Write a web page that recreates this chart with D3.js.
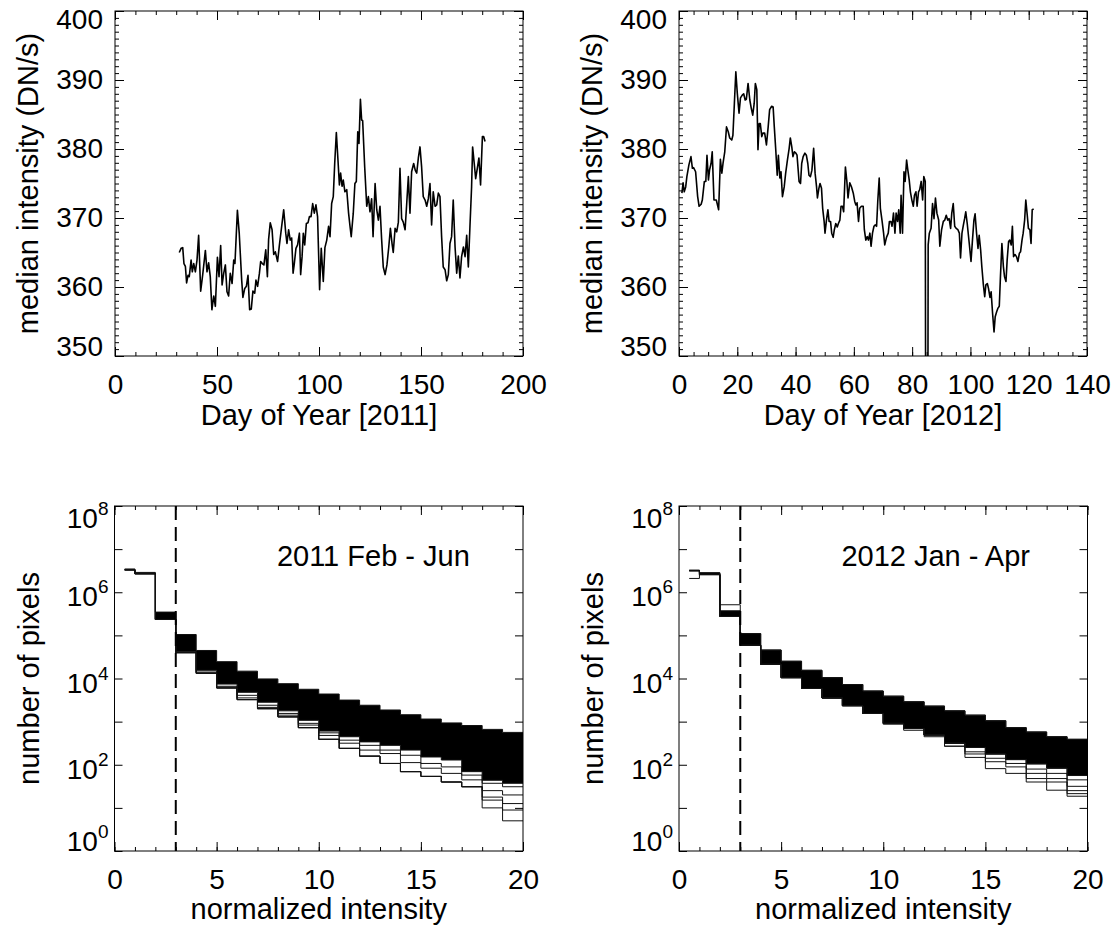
<!DOCTYPE html>
<html lang="en">
<head>
<meta charset="UTF-8">
<title>Median intensity and pixel histograms</title>
<script src="https://d3js.org/d3.v7.min.js"></script>
<style>
  body { margin: 0; background: #fff; }
  text { font-family: "Liberation Sans", Arial, Helvetica, sans-serif; fill: #000; }
</style>
</head>
<body>
<script>
// ---- median intensity, 2011 (day of year, DN/s) ----
var days2011 = [
  31.5,32.4,33.2,33.8,34.5,35.1,35.8,36.4,37.3,37.9,
  38.6,39.4,40.2,41.0,42.0,43.0,44.3,45.1,45.9,46.7,
  47.5,48.4,49.2,50.2,51.0,51.8,52.5,53.3,54.1,54.9,
  55.7,56.5,57.4,58.2,58.8,60.0,60.9,62.1,62.7,63.6,
  64.4,65.2,66.0,66.8,67.6,68.5,69.1,69.9,70.8,71.4,
  72.2,73.0,73.9,74.7,75.3,76.1,77.0,77.8,78.6,79.7,
  80.6,81.7,82.7,83.7,84.3,85.1,85.9,86.6,87.3,87.9,
  88.7,89.5,90.4,91.0,91.7,92.3,93.0,93.8,94.6,95.3,
  96.1,96.9,97.7,98.5,99.3,100.3,101.1,102.1,102.9,103.8,
  104.7,105.4,106.2,107.0,107.7,108.5,109.3,110.0,110.6,111.3,
  111.9,112.7,113.6,114.5,115.2,115.8,116.8,117.6,118.3,119.0,
  119.6,120.3,120.9,121.4,122.4,123.4,124.2,125.0,125.8,126.5,
  127.5,128.3,129.1,129.9,130.7,131.5,132.4,133.3,134.2,135.0,
  135.8,136.4,137.3,138.1,138.9,139.7,140.5,141.3,142.2,143.0,
  143.8,144.6,145.4,146.4,147.2,147.9,148.7,149.5,150.3,151.1,
  152.0,152.8,153.6,154.4,155.2,156.0,156.9,157.7,158.5,159.3,
  160.1,160.9,161.8,162.6,163.4,164.2,165.0,165.8,166.7,167.5,
  168.3,169.1,169.9,170.8,171.6,172.4,173.2,174.0,174.8,175.3,
  176.1,176.8,177.6,178.4,179.2,180.1,180.7,181.4
];
var median2011 = [
  365.0,365.6,365.7,363.4,363.0,360.6,361.7,361.5,363.9,362.2,
  363.4,362.2,363.9,367.5,359.4,361.8,365.3,362.2,363.5,361.5,
  356.7,358.7,357.2,364.3,361.5,366.0,360.3,362.0,363.2,359.3,
  358.7,362.0,360.5,363.9,363.4,371.1,367.8,361.0,358.5,359.8,
  360.1,361.7,356.7,356.8,359.4,359.1,361.0,360.1,362.0,363.7,
  363.4,363.2,365.4,361.5,366.9,369.3,368.3,364.7,365.1,363.7,
  366.1,368.8,371.2,367.8,366.3,368.3,366.8,367.1,362.0,363.4,
  365.6,366.1,367.8,361.8,364.4,367.8,366.1,369.2,369.3,370.2,
  370.2,372.1,370.7,371.9,370.2,359.6,365.6,360.8,365.7,366.8,
  368.8,367.3,372.1,373.1,377.9,382.4,378.4,374.8,376.5,374.6,
  375.5,373.8,374.1,370.7,368.8,367.3,370.7,375.0,375.3,382.5,
  380.8,387.2,384.2,384.1,377.4,371.7,373.1,370.9,372.8,367.3,
  375.0,371.2,369.7,371.7,366.9,362.9,361.8,363.2,365.8,368.5,
  366.3,365.0,368.5,368.0,369.4,377.2,369.9,369.4,368.3,372.1,
  376.0,370.7,376.7,377.9,376.9,376.5,378.7,380.3,377.4,373.1,
  372.6,371.7,372.8,375.0,369.0,373.8,371.7,371.9,373.6,373.1,
  367.3,362.9,362.5,360.9,361.8,366.3,367.3,372.6,365.8,362.0,
  364.5,361.3,364.4,365.8,364.4,367.5,362.9,368.8,374.5,380.3,
  377.9,375.7,377.2,378.7,374.8,381.8,381.8,381.1
];

// ---- median intensity, 2012 ----
var days2012 = [
  1.0,1.4,1.8,2.3,2.7,3.4,4.1,4.6,5.0,5.7,
  6.4,6.9,7.6,8.0,8.7,9.2,9.6,10.1,10.5,11.0,
  11.4,12.0,12.8,13.6,14.2,14.7,15.1,15.7,16.3,16.9,
  17.4,18.1,18.5,19.0,19.5,20.0,20.6,21.1,21.7,22.2,
  22.7,23.1,23.7,24.3,24.8,25.3,25.8,26.2,26.7,27.1,
  27.5,27.9,28.4,28.8,29.4,30.0,30.6,31.1,31.8,32.3,
  32.7,33.2,33.7,34.1,34.6,35.0,35.5,36.1,36.6,37.2,
  37.8,38.2,38.7,39.1,39.6,40.1,40.5,41.2,41.7,42.1,
  42.6,43.2,43.7,44.2,44.6,45.1,45.6,46.2,46.7,47.2,
  47.5,48.0,48.4,48.9,49.3,49.8,50.1,50.6,51.1,51.5,
  52.0,52.4,52.9,53.3,53.8,54.3,54.7,55.2,55.6,56.1,
  56.5,57.1,57.6,58.0,58.6,59.2,59.8,60.3,60.7,61.1,
  61.6,62.0,62.6,63.2,63.6,64.1,64.6,65.0,65.5,65.9,
  66.4,66.9,67.3,67.8,68.2,68.7,69.1,69.7,70.2,70.6,
  71.2,71.8,72.2,72.7,73.1,73.6,74.1,74.5,75.0,75.4,
  75.9,76.2,76.7,77.2,77.6,78.1,78.5,79.0,79.4,79.9,
  80.4,80.8,81.3,81.7,82.2,82.6,83.1,83.6,84.0,84.5,
  85.0,85.5,85.9,86.5,87.0,87.5,88.0,88.5,89.1,89.5,
  90.1,90.7,91.2,91.7,92.2,92.7,93.2,93.6,94.1,94.6,
  95.1,95.7,96.2,96.6,97.1,97.5,98.0,98.4,98.9,99.6,
  100.2,100.7,101.2,101.6,102.1,102.6,103.0,103.5,103.9,104.4,
  104.9,105.3,105.8,106.2,106.7,107.1,107.6,108.1,108.5,109.0,
  109.4,109.9,110.3,110.8,111.3,111.7,112.2,112.6,113.1,113.5,
  114.0,114.4,114.8,115.3,115.8,116.3,116.8,117.2,117.7,118.1,
  118.6,119.0,119.5,119.9,120.4,120.8,121.2,121.7
];
var median2012 = [
  373.6,375.1,373.8,374.5,376.0,377.7,378.9,377.2,377.3,376.7,
  373.1,371.7,372.0,372.6,375.3,375.3,379.1,375.5,377.0,377.9,
  379.6,372.6,372.6,371.2,378.5,376.5,377.9,379.6,383.2,382.5,
  381.6,381.3,382.0,386.6,391.2,388.1,385.2,387.4,387.8,388.0,
  387.1,387.2,389.5,387.1,385.9,384.9,386.6,389.5,388.6,379.9,
  383.7,383.7,381.8,382.3,382.3,380.6,383.2,385.7,386.2,386.1,
  383.2,379.9,376.2,379.1,375.8,376.7,373.1,374.5,376.5,378.4,
  380.1,381.6,380.3,378.9,379.6,379.4,379.1,375.3,375.0,377.9,
  378.9,379.4,379.1,377.9,376.2,376.0,376.9,380.1,376.5,374.5,
  372.9,374.3,375.0,374.3,371.4,369.5,367.8,369.7,371.2,369.5,
  369.5,367.8,367.2,368.3,369.2,368.7,369.2,369.7,371.7,371.7,
  370.9,377.4,375.3,372.9,375.1,374.5,373.6,372.4,371.9,372.2,
  369.5,371.4,371.7,371.7,368.3,366.8,367.3,366.8,367.8,365.9,
  367.8,368.8,369.0,368.8,372.4,375.8,371.4,369.5,367.8,366.1,
  367.2,367.8,369.5,369.5,368.8,370.7,367.8,370.7,369.5,371.2,
  367.8,373.3,367.8,376.7,375.3,378.4,377.0,375.5,373.8,372.6,
  371.7,373.3,373.8,371.7,373.8,374.1,375.3,372.6,376.0,375.3,
  250.0,366.1,367.8,368.5,372.1,369.9,372.9,370.7,369.7,365.9,
  368.3,369.5,369.7,370.4,369.7,369.9,368.5,370.7,372.1,368.8,
  368.5,368.3,367.8,364.2,367.8,368.8,369.9,370.9,369.2,366.3,
  363.7,366.8,369.7,370.6,367.8,365.6,367.5,365.4,363.0,360.5,
  358.6,360.3,360.5,359.8,358.5,359.3,356.2,353.5,355.7,356.4,
  356.9,357.2,361.5,366.3,363.0,361.5,360.8,363.9,366.6,366.8,
  366.1,368.8,364.4,364.7,364.4,363.7,364.9,365.1,366.8,367.8,
  369.7,372.6,370.4,368.5,368.3,366.3,371.2,371.3
];

// ---- histograms: step left edges, log10(number of pixels) per step ----
var histSteps = [0.5, 1, 2, 3, 4, 5, 6, 7, 8, 9, 10, 11, 12, 13, 14, 15, 16, 17, 18, 19];
var histEnd = 20;
var cutoff = 3;

var upper2011 = [6.54, 6.46, 5.54, 5.02, 4.65, 4.39, 4.17, 3.99, 3.88, 3.75, 3.64, 3.50, 3.38, 3.27, 3.16, 3.06, 2.97, 2.91, 2.82, 2.75];
var core2011  = [6.52, 6.43, 5.37, 4.62, 4.19, 3.87, 3.68, 3.45, 3.25, 3.03, 2.78, 2.65, 2.53, 2.45, 2.34, 2.18, 2.11, 1.84, 1.64, 1.57];
var lowA2011  = [6.52, 6.43, 5.37, 4.60, 4.15, 3.82, 3.61, 3.38, 3.19, 2.96, 2.74, 2.57, 2.45, 2.34, 2.22, 2.03, 1.95, 1.76, 1.57, 1.49];
var lowB2011  = [6.52, 6.43, 5.37, 4.60, 4.13, 3.80, 3.55, 3.33, 3.15, 2.92, 2.68, 2.50, 2.34, 2.26, 2.05, 1.92, 1.80, 1.65, 1.40, 1.30];
var lowC2011  = [6.52, 6.43, 5.37, 4.60, 4.12, 3.78, 3.51, 3.30, 3.11, 2.86, 2.59, 2.38, 2.20, 2.03, 1.84, 1.73, 1.60, 1.49, 1.25, 1.10];
var lowD2011  = [6.52, 6.43, 5.37, 4.60, 4.12, 3.78, 3.51, 3.30, 3.11, 2.86, 2.59, 2.38, 2.20, 2.03, 1.84, 1.73, 1.60, 1.49, 1.00, 0.95];
var lowE2011  = [6.52, 6.43, 5.37, 4.60, 4.12, 3.78, 3.51, 3.30, 3.11, 2.86, 2.59, 2.38, 2.20, 2.03, 1.84, 1.73, 1.60, 1.49, 1.18, 0.70];

var upper2012 = [6.51, 6.45, 5.57, 5.04, 4.66, 4.40, 4.19, 4.02, 3.86, 3.71, 3.59, 3.46, 3.36, 3.25, 3.15, 3.02, 2.86, 2.76, 2.65, 2.59];
var core2012  = [6.50, 6.41, 5.44, 4.77, 4.33, 4.02, 3.77, 3.55, 3.37, 3.19, 2.96, 2.84, 2.69, 2.50, 2.40, 2.25, 2.12, 2.02, 1.92, 1.75];
var highA2012 = [6.51, 6.45, 5.71, 5.04, 4.66, 4.40, 4.19, 4.02, 3.86, 3.71, 3.59, 3.46, 3.36, 3.25, 3.15, 3.02, 2.86, 2.76, 2.65, 2.59];
var lowA2012  = [6.32, 6.41, 5.44, 4.77, 4.33, 4.02, 3.77, 3.55, 3.37, 3.19, 2.94, 2.80, 2.65, 2.43, 2.30, 2.15, 2.03, 1.90, 1.80, 1.65];
var lowB2012  = [6.50, 6.41, 5.44, 4.77, 4.33, 4.02, 3.77, 3.55, 3.37, 3.19, 2.96, 2.84, 2.69, 2.43, 2.25, 2.07, 1.95, 1.80, 1.68, 1.50];
var lowC2012  = [6.50, 6.41, 5.44, 4.77, 4.33, 4.02, 3.77, 3.55, 3.37, 3.19, 2.96, 2.84, 2.69, 2.50, 2.17, 1.91, 1.80, 1.68, 1.60, 1.40];
var lowD2012  = [6.50, 6.41, 5.44, 4.77, 4.33, 4.02, 3.77, 3.55, 3.37, 3.19, 2.96, 2.84, 2.69, 2.50, 2.40, 2.25, 2.12, 1.60, 1.41, 1.33];
var lowE2012  = [6.50, 6.41, 5.44, 4.77, 4.33, 4.02, 3.77, 3.55, 3.37, 3.19, 2.96, 2.84, 2.69, 2.50, 2.40, 2.25, 2.12, 2.02, 1.92, 1.27];

// ---- ticks and labels ----
var dayTicks2011 = [0, 50, 100, 150, 200];
var dayTicks2012 = [0, 20, 40, 60, 80, 100, 120, 140];
var medianTicks = [350, 360, 370, 380, 390, 400];
var histXTicks = [0, 5, 10, 15, 20];
var histDecades = [0, 1, 2, 3, 4, 5, 6, 7, 8];
var histLabelPowers = [0, 2, 4, 6, 8];

var FAMILY = '"Liberation Sans", Arial, Helvetica, sans-serif';
var TICK_FS = 28, TITLE_FS = 29;

var svg = d3.select("body").append("svg")
  .attr("width", 1120).attr("height", 932)
  .style("background", "#fff");

var defs = svg.append("defs");

function strip(sel) {
  sel.select(".domain").remove();
  sel.selectAll("line").attr("stroke", "#000").attr("stroke-width", 1);
  sel.attr("font-size", TICK_FS).attr("font-family", FAMILY);
}

// frame + mirrored inward ticks on all four sides
function drawAxes(g, x, y, w, h, o) {
  g.append("g").attr("transform", "translate(0," + h + ")")
    .call(d3.axisBottom(x).tickValues(o.xMajor).tickSize(-9).tickPadding(18).tickFormat(d3.format("d")))
    .call(strip);
  g.append("g").attr("transform", "translate(0," + h + ")")
    .call(d3.axisBottom(x).tickValues(o.xMinor).tickSize(-4).tickFormat(""))
    .call(strip);
  g.append("g")
    .call(d3.axisTop(x).tickValues(o.xMajor).tickSize(-9).tickFormat(""))
    .call(strip);
  g.append("g")
    .call(d3.axisTop(x).tickValues(o.xMinor).tickSize(-4).tickFormat(""))
    .call(strip);

  var left = g.append("g")
    .call(d3.axisLeft(y).tickValues(o.yMajor).tickSize(-o.yMajorLen).tickPadding(12).tickFormat(o.yFormat))
    .call(strip);
  g.append("g").attr("transform", "translate(" + w + ",0)")
    .call(d3.axisRight(y).tickValues(o.yMajor).tickSize(-o.yMajorLen).tickFormat(""))
    .call(strip);
  if (o.yMinor) {
    g.append("g")
      .call(d3.axisLeft(y).tickValues(o.yMinor).tickSize(-4).tickFormat(""))
      .call(strip);
    g.append("g").attr("transform", "translate(" + w + ",0)")
      .call(d3.axisRight(y).tickValues(o.yMinor).tickSize(-4).tickFormat(""))
      .call(strip);
  }

  g.append("rect")
    .attr("width", w).attr("height", h)
    .attr("fill", "none").attr("stroke", "#000").attr("stroke-width", 1);
  return left;
}

function medianPanel(left, top, days, values, xMax, xTicks, xMinorStep, xTitle, id) {
  var w = 408, h = 345;
  var g = svg.append("g").attr("transform", "translate(" + left + "," + top + ")");
  var x = d3.scaleLinear().domain([0, xMax]).range([0, w]);
  var y = d3.scaleLinear().domain([350, 400]).range([h, 0]);

  defs.append("clipPath").attr("id", id).append("rect").attr("width", w).attr("height", h);

  g.append("path")
    .datum(d3.zip(days, values))
    .attr("clip-path", "url(#" + id + ")")
    .attr("fill", "none")
    .attr("stroke", "#000")
    .attr("stroke-width", 1.6)
    .attr("stroke-linejoin", "round")
    .attr("d", d3.line().x(function(d) { return x(d[0]); }).y(function(d) { return y(d[1]); }));

  var leftAxis = drawAxes(g, x, y, w, h, {
    xMajor: xTicks, xMinor: d3.range(0, xMax + 1, xMinorStep),
    yMajor: medianTicks, yMinor: d3.range(350, 401, 1), yMajorLen: 9,
    yFormat: d3.format("d")
  });
  // end labels kept inside the frame
  leftAxis.selectAll(".tick text").attr("y", function(d) {
    return d === 400 ? 9 : (d === 350 ? -9 : 0);
  });

  g.append("text")
    .attr("x", w / 2).attr("y", h + 69)
    .attr("text-anchor", "middle").attr("font-size", TITLE_FS)
    .text(xTitle);
  g.append("text")
    .attr("transform", "translate(-77," + (h / 2) + ") rotate(-90)")
    .attr("text-anchor", "middle").attr("font-size", TITLE_FS)
    .text("median intensity (DN/s)");
}

function stepData(levels) {
  var pts = histSteps.map(function(s, i) { return [s, Math.pow(10, levels[i])]; });
  pts.push([histEnd, Math.pow(10, levels[levels.length - 1])]);
  return pts;
}

function histPanel(left, top, upper, core, lines, label, id) {
  var w = 408.5, h = 345;
  var g = svg.append("g").attr("transform", "translate(" + left + "," + top + ")");
  var x = d3.scaleLinear().domain([0, 20]).range([0, w]);
  var y = d3.scaleLog().domain([1, 1e8]).range([h, 0]);

  defs.append("clipPath").attr("id", id).append("rect").attr("width", w).attr("height", h);
  var plot = g.append("g").attr("clip-path", "url(#" + id + ")");

  var up = stepData(upper), lo = stepData(core);
  var band = up.map(function(d, i) { return [d[0], d[1], lo[i][1]]; });

  plot.append("path")
    .datum(band)
    .attr("fill", "#000")
    .attr("d", d3.area().curve(d3.curveStepAfter)
      .x(function(d) { return x(d[0]); })
      .y0(function(d) { return y(d[2]); })
      .y1(function(d) { return y(d[1]); }));

  var line = d3.line().curve(d3.curveStepAfter)
    .x(function(d) { return x(d[0]); })
    .y(function(d) { return y(d[1]); });

  plot.selectAll("path.hist")
    .data([upper, core].concat(lines).map(stepData))
    .enter().append("path")
    .attr("class", "hist")
    .attr("fill", "none")
    .attr("stroke", "#111")
    .attr("stroke-width", 1)
    .attr("d", line);

  plot.append("line")
    .attr("x1", x(cutoff)).attr("x2", x(cutoff))
    .attr("y1", 0).attr("y2", h)
    .attr("stroke", "#000").attr("stroke-width", 2)
    .attr("stroke-dasharray", "14,7");

  g.append("text")
    .attr("x", x(7.95)).attr("y", y(Math.pow(10, 6.6)))
    .attr("font-size", TITLE_FS)
    .text(label);

  drawAxes(g, x, y, w, h, {
    xMajor: histXTicks, xMinor: d3.range(0, 21, 1),
    yMajor: histDecades.map(function(p) { return Math.pow(10, p); }),
    yMinor: null, yMajorLen: 8,
    yFormat: function() { return ""; }
  });

  histLabelPowers.forEach(function(p) {
    var shift = p === 8 ? 8 : (p === 0 ? -14 : 0);
    var t = g.append("text")
      .attr("x", -6)
      .attr("y", y(Math.pow(10, p)) + 14 + shift)
      .attr("text-anchor", "end")
      .attr("font-size", TICK_FS);
    t.append("tspan").text("10");
    t.append("tspan").attr("dy", -13).attr("font-size", 19).text(p);
  });

  g.append("text")
    .attr("x", w / 2).attr("y", h + 68)
    .attr("text-anchor", "middle").attr("font-size", TITLE_FS)
    .text("normalized intensity");
  g.append("text")
    .attr("transform", "translate(-76," + (h / 2) + ") rotate(-90)")
    .attr("text-anchor", "middle").attr("font-size", TITLE_FS)
    .text("number of pixels");
}

medianPanel(115, 11, days2011, median2011, 200, dayTicks2011, 10, "Day of Year [2011]", "clipTL");
medianPanel(679, 11, days2012, median2012, 140, dayTicks2012, 5, "Day of Year [2012]", "clipTR");

histPanel(114.5, 506, upper2011, core2011,
  [lowA2011, lowB2011, lowC2011, lowD2011, lowE2011], "2011 Feb - Jun", "clipBL");
histPanel(679, 506, upper2012, core2012,
  [highA2012, lowA2012, lowB2012, lowC2012, lowD2012, lowE2012], "2012 Jan - Apr", "clipBR");
</script>
</body>
</html>
